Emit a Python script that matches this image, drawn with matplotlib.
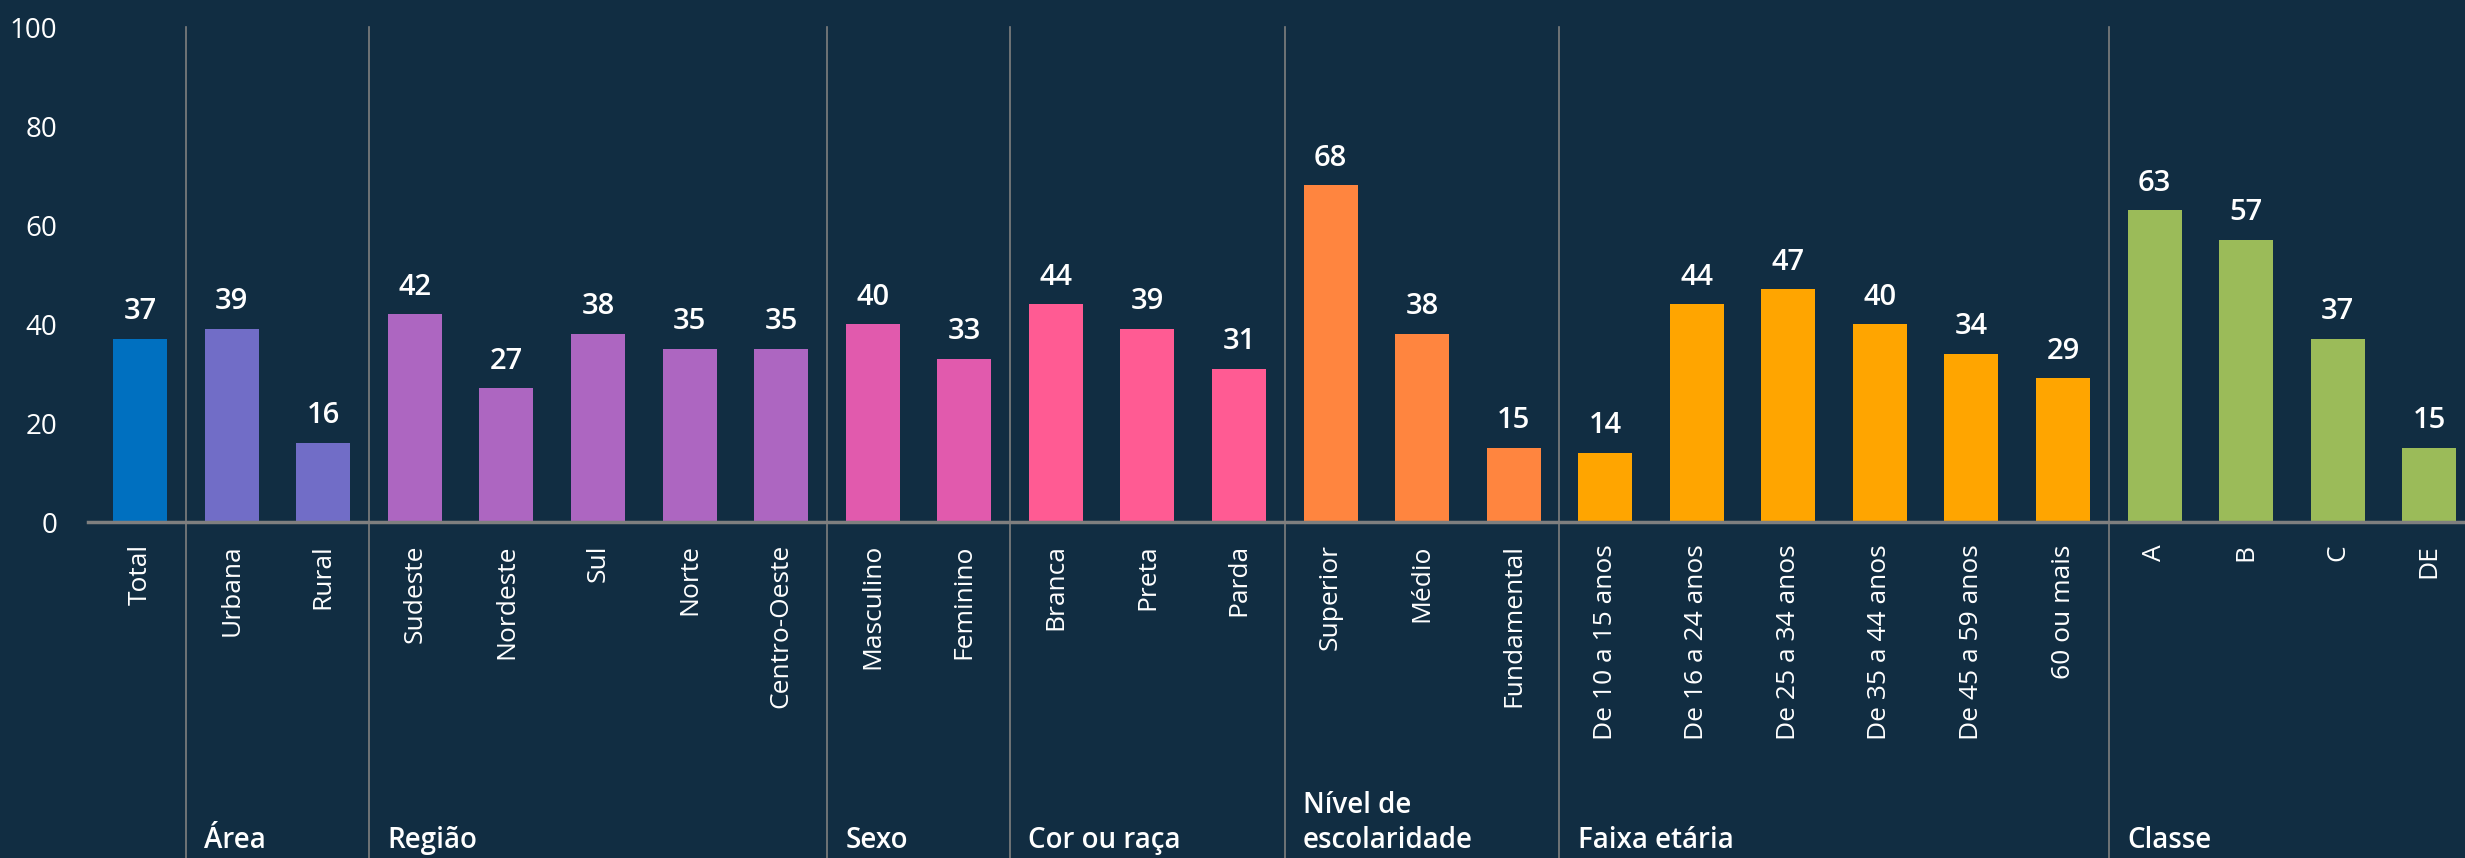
import numpy as np
import matplotlib.pyplot as plt
from matplotlib.transforms import blended_transform_factory

plt.rcParams['font.family'] = ['Open Sans', 'DejaVu Sans']

categories = ["Total", "Urbana", "Rural", "Sudeste", "Nordeste", "Sul", "Norte",
              "Centro-Oeste", "Masculino", "Feminino", "Branca", "Preta", "Parda",
              "Superior", "Médio", "Fundamental", "De 10 a 15 anos", "De 16 a 24 anos",
              "De 25 a 34 anos", "De 35 a 44 anos", "De 45 a 59 anos", "60 ou mais",
              "A", "B", "C", "DE"]
values = [37, 39, 16, 42, 27, 38, 35, 35, 40, 33, 44, 39, 31, 68, 38, 15,
          14, 44, 47, 40, 34, 29, 63, 57, 37, 15]

group_names = ["", "Área", "Região", "Sexo", "Cor ou raça", "Nível de\nescolaridade",
               "Faixa etária", "Classe"]
group_sizes = [1, 2, 5, 2, 3, 3, 6, 4]
group_colors = ["#0070c0", "#716dc7", "#ad66c1", "#e15aad", "#ff5b93",
                "#ff853f", "#ffa500", "#9bbb59"]

bg = "#112d42"
grey = "#7f7f7f"

fig = plt.figure(figsize=(24.65, 8.58), dpi=100, facecolor=bg)
ax = fig.add_axes([0.0357, 0.3916, 0.9643, 0.5769], facecolor=bg)

colors = []
for c, n in zip(group_colors, group_sizes):
    colors += [c] * n

x = np.arange(len(categories))
bars = ax.bar(x, values, width=0.59, color=colors, zorder=2)

for xi, v in zip(x, values):
    ax.annotate(str(v), (xi, v), xytext=(0, 9), textcoords="offset points",
                ha="center", va="bottom", color="white", fontsize=21,
                fontweight="semibold")

ax.set_xlim(-0.57, 25.39)
ax.set_ylim(0, 100)
ax.set_yticks([0, 20, 40, 60, 80, 100])
ax.tick_params(axis="y", length=0, pad=22, labelsize=20, labelcolor="white")
ax.set_xticks(x)
ax.set_xticklabels(categories, rotation=90, fontsize=19, color="white")
ax.tick_params(axis="x", length=0, pad=16)
for s in ["top", "right", "left"]:
    ax.spines[s].set_visible(False)
ax.spines["bottom"].set_color(grey)
ax.spines["bottom"].set_linewidth(2.5)
ax.spines["bottom"].set_bounds(-0.57, 25.39)

trans = blended_transform_factory(ax.transData, ax.transAxes)
start = 0
for name, n in zip(group_names, group_sizes):
    if start > 0:
        sep = start - 0.5
        ax.plot([sep, sep], [1.0, -0.7], color=grey, lw=1.2, transform=trans,
                clip_on=False, zorder=1)
        ax.text(sep + 0.2, -0.672, name, transform=trans, ha="left", va="bottom",
                color="white", fontsize=20, fontweight="semibold", linespacing=1.25)
    start += n

fig.savefig("out.png", dpi=100, facecolor=bg)
